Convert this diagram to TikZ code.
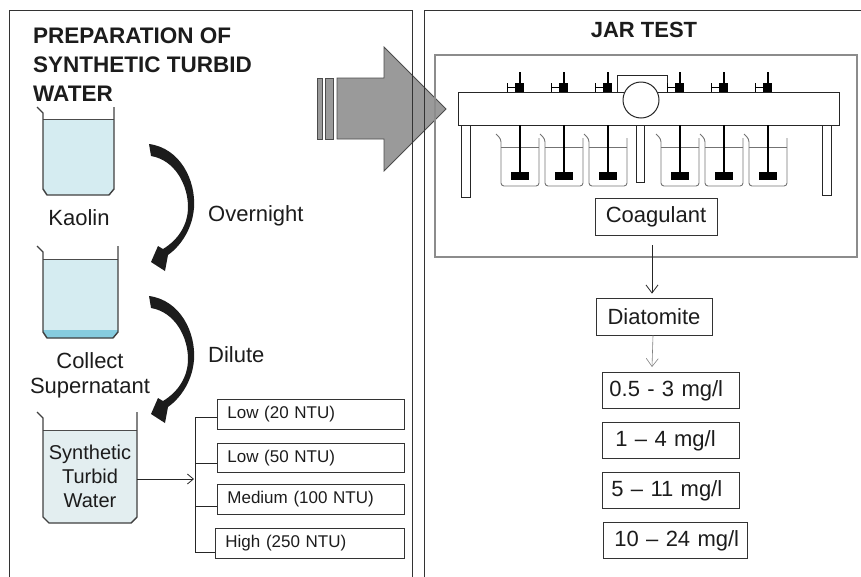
\documentclass[tikz,border=0pt]{standalone}
\usepackage{fontspec}
\setmainfont{Liberation Sans}
\usetikzlibrary{arrows.meta}

\definecolor{ink}{HTML}{1C1C1C}
\definecolor{kaolinwater}{HTML}{D5ECF1}
\definecolor{sediment}{HTML}{86CCDF}
\definecolor{turbid}{HTML}{E3EEF0}
\definecolor{bigarrow}{HTML}{9A9A9A}

\begin{document}
\begin{tikzpicture}[x=1pt,y=-1pt,
  panel/.style={draw=black!80, line width=1pt},
  beaker/.style={draw=black!75, line width=1.4pt, line join=round},
  label/.style={text=ink, inner sep=0pt, font=\fontsize{22}{25}\selectfont},
  ntubox/.style={draw=black!80, line width=0.8pt, text=ink, anchor=north west,
    align=left, inner ysep=0pt, inner xsep=0pt,
    font=\fontsize{17}{20}\selectfont},
  dosebox/.style={draw=black!80, line width=0.8pt, text=ink, anchor=north west,
    align=left, inner ysep=0pt, inner xsep=0pt, minimum height=36pt,
    font=\fontsize{22}{25}\selectfont},
  stepbox/.style={draw=black!80, line width=0.8pt, text=ink, inner sep=0pt,
    minimum height=37pt, font=\fontsize{22}{25}\selectfont},
  thinarrow/.style={-{Straight Barb[length=8pt,width=12pt]}, line width=0.8pt},
  rig/.style={draw=black!85, line width=1pt},
  jar/.style={draw=black!55, line width=0.9pt, rounded corners=3pt}
]
\useasboundingbox (0,0) rectangle (861,576);

% ---------- big transfer arrow ----------
\filldraw[fill=bigarrow, draw=black!70, line width=0.8pt]
  (337,78) -- (384,78) -- (384,47) -- (446,109) -- (384,171) -- (384,139) -- (337,139) -- cycle;
\filldraw[fill=bigarrow, draw=black!70, line width=0.8pt] (317,78) rectangle (322,139);
\filldraw[fill=bigarrow, draw=black!70, line width=0.8pt] (325,78) rectangle (333,139);

% ---------- panels ----------
\draw[panel] (9,600) -- (9,10) -- (412,10) -- (412,600);
\draw[panel] (424,600) -- (424,10) -- (880,10);

% ---------- left panel ----------
\node[label, anchor=north west, align=left, font=\bfseries\fontsize{22.5}{29}\selectfont]
  (title) at (33,28) {PREPARATION OF\\SYNTHETIC TURBID\\WATER};

% kaolin beaker
\fill[kaolinwater] (43,119) -- (43,189) -- (47,195) -- (109,195) -- (114,189) -- (114,119) -- cycle;
\draw[black!70, line width=1pt] (43,119) -- (114,119);
\draw[beaker] (37,107) -- (43,113) -- (43,189) -- (47,195) -- (109,195) -- (114,189) -- (114,107);
\node[label, anchor=base] (kaolin) at (79,225) {Kaolin};

% settled beaker
\fill[kaolinwater] (43,259) -- (43,332) -- (47,338) -- (113,338) -- (118,332) -- (118,259) -- cycle;
\fill[sediment] (43,330) -- (43,332) -- (47,338) -- (113,338) -- (118,332) -- (118,330) -- cycle;
\draw[black!70, line width=1pt] (43,259) -- (118,259);
\draw[beaker] (37,246) -- (43,252) -- (43,332) -- (47,338) -- (113,338) -- (118,332) -- (118,246);
\node[label, anchor=north, align=center] (collect) at (90,352) {Collect\\Supernatant};

% synthetic turbid water beaker
\fill[turbid] (43,430) -- (43,517) -- (49,523) -- (131,523) -- (137,517) -- (137,430) -- cycle;
\draw[black!70, line width=1pt] (43,430) -- (137,430);
\draw[beaker] (37,412) -- (43,418) -- (43,517) -- (49,523) -- (131,523) -- (137,517) -- (137,412);
\node[label, anchor=north, align=center, font=\fontsize{20}{24}\selectfont]
  (stw) at (90,445) {Synthetic\\Turbid\\Water};

% curved process arrows
\foreach \dy in {0,152} {
  \fill[ink, shift={(0,\dy)}]
    (149,144) .. controls (180,148) and (196,180) .. (194,208)
    .. controls (192,232) and (178,248) .. (168,255)
    -- (165,271) -- (151,262) -- (158,246) -- (163,249)
    .. controls (178,240) and (188,225) .. (188,207)
    .. controls (188,185) and (175,160) .. (151,156) -- cycle;
}
\node[label, anchor=base west] (overnight) at (208,221) {Overnight};
\node[label, anchor=base west] (dilute) at (208,362) {Dilute};

% turbidity levels
\node[ntubox, minimum height=30pt, text width=187pt] (n1) at (217,399) {\hspace*{10pt}Low (20 NTU)};
\node[ntubox, minimum height=29pt, text width=187pt] (n2) at (217,443) {\hspace*{10pt}Low (50 NTU)};
\node[ntubox, minimum height=30pt, text width=187pt] (n3) at (217,484) {\hspace*{10pt}Medium (100 NTU)};
\node[ntubox, minimum height=30pt, text width=189pt] (n4) at (215,528) {\hspace*{10pt}High (250 NTU)};

\coordinate (b3r) at (137,479);
\coordinate (fork) at (194,479);
\draw[-{Straight Barb[length=6pt,width=10pt]}, line width=0.8pt, black!85] (b3r) -- (fork);
\draw[line width=0.8pt, black!85] ([yshift=-3pt]n1.west) -- ++(-22,0) |- ([yshift=-9pt]n4.west);
\draw[line width=0.8pt, black!85] ([yshift=-5.5pt]n2.west) -- ++(-22,0);
\draw[line width=0.8pt, black!85] ([yshift=-7pt]n3.west) -- ++(-22,0);

% ---------- right panel ----------
\node[label, anchor=base, font=\bfseries\fontsize{22}{25}\selectfont] (jartitle) at (644,37) {JAR TEST};

% jar test apparatus
\draw[black!45, line width=1.2pt] (435,55) rectangle (857,257);
\draw[rig, fill=white] (617,75) rectangle (667,92);
\draw[rig, fill=white] (458,92) rectangle (839,125);
\draw[rig, fill=white] (641,100) circle[radius=18pt];
\draw[rig] (461,125) rectangle (470,197);
\draw[rig] (822,125) rectangle (831,195);
\draw[rig] (636,125) rectangle (644,182);
\foreach \s in {520,564,608,680,724,768} {
  % motor head on the bar
  \draw[black, line width=1.2pt] (\s,72) -- (\s,92);
  \fill[black] (\s-5,83) rectangle (\s+4,92);
  \draw[black, line width=0.8pt] (\s-13,83) -- (\s-13,92);
  \draw[black, line width=0.8pt] (\s-13,87.5) -- (\s-5,87.5);
  % jar with stirrer
  \draw[jar] (\s-24,134) -- (\s-19,139) -- (\s-19,186) -- (\s+19,186) -- (\s+19,138);
  \draw[black!55, line width=0.7pt] (\s-19,147) -- (\s+19,147);
  \draw[black, line width=1.4pt] (\s,125) -- (\s,173);
  \fill[black] (\s-9,172) rectangle (\s+9,180);
}

\node[stepbox, minimum width=122pt] (coag) at (656,216.5) {Coagulant};
\node[stepbox, minimum width=116pt] (diat) at (654,316.5) {Diatomite};

\draw[thinarrow, black!85] ([xshift=-4pt,yshift=-10pt]coag.south) -- ([xshift=-2pt,yshift=4pt]diat.north);

\node[dosebox, text width=137pt] (d1) at (602,372) {\hspace*{7pt}0.5 - 3 mg/l};
\node[dosebox, text width=137pt] (d2) at (602,422) {\hspace*{13pt}1 – 4 mg/l};
\node[dosebox, text width=137pt] (d3) at (602,472) {\hspace*{9pt}5 – 11 mg/l};
\node[dosebox, text width=144pt] (d4) at (603,522) {\hspace*{11pt}10 – 24 mg/l};

\draw[-{Straight Barb[length=8pt,width=12pt]}, line width=0.6pt, black!50]
  ([xshift=-1pt]diat.south) -- ([xshift=-2pt,yshift=5pt]diat.south |- d1.north);
\end{tikzpicture}
\end{document}
